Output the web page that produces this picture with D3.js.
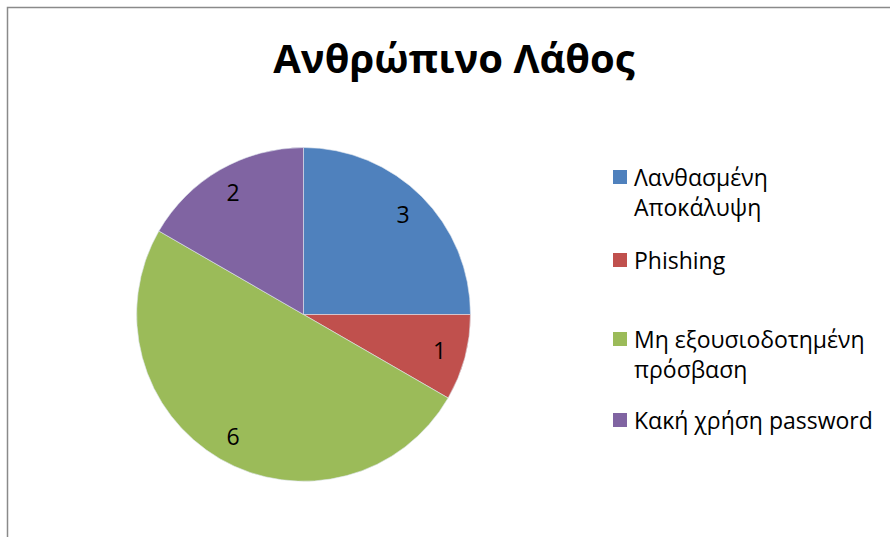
<!DOCTYPE html>
<html>
<head>
<meta charset="utf-8">
<script src="https://cdn.jsdelivr.net/npm/d3@7"></script>
<style>
  body { margin: 0; background: #fff; }
  text { font-family: "Open Sans", "Noto Sans", sans-serif; fill: #000; }
</style>
</head>
<body>
<div id="chart"></div>
<script>
var svgWidth = 890;
var svgHeight = 537;

// data
var categories = ["Λανθασμένη Αποκάλυψη", "Phishing", "Μη εξουσιοδοτημένη πρόσβαση", "Κακή χρήση password"];
var legendLines = [["Λανθασμένη", "Αποκάλυψη"], ["Phishing"], ["Μη εξουσιοδοτημένη", "πρόσβαση"], ["Κακή χρήση password"]];
var values = [3, 1, 6, 2];
var colors = ["#4F81BD", "#C0504D", "#9BBB59", "#8064A2"];
var title = "Ανθρώπινο Λάθος";

var svg = d3.select("#chart")
  .append("svg")
  .attr("width", svgWidth)
  .attr("height", svgHeight);

// chart frame (cut off at right and bottom)
svg.append("rect")
  .attr("x", 7.5)
  .attr("y", 7.5)
  .attr("width", 1000)
  .attr("height", 1000)
  .attr("fill", "none")
  .attr("stroke", "#8a8a8a")
  .attr("stroke-width", 1.5);

// title
svg.append("text")
  .attr("x", 454)
  .attr("y", 73)
  .attr("text-anchor", "middle")
  .attr("font-size", "40px")
  .attr("font-weight", "bold")
  .text(title);

// pie
var radius = 167;
var pieGroup = svg.append("g")
  .attr("transform", "translate(303.5, 314.5)");

var pie = d3.pie().sort(null).value(d => d);
var arc = d3.arc().innerRadius(0).outerRadius(radius);
var labelArc = d3.arc().innerRadius(141).outerRadius(141);

var arcs = pie(values);

pieGroup.selectAll("path")
  .data(arcs)
  .enter()
  .append("path")
  .attr("d", arc)
  .attr("fill", (d, i) => colors[i])
  .attr("stroke", "#dfe6ee")
  .attr("stroke-width", 0.6);

pieGroup.selectAll(".slice-label")
  .data(arcs)
  .enter()
  .append("text")
  .attr("class", "slice-label")
  .attr("transform", d => `translate(${labelArc.centroid(d)})`)
  .attr("text-anchor", "middle")
  .attr("dy", "0.36em")
  .attr("font-size", "23px")
  .text(d => d.data);

// legend
var legendY = [177, 260, 339, 420];
var legend = svg.append("g");

var items = legend.selectAll(".legend-item")
  .data(categories)
  .enter()
  .append("g")
  .attr("class", "legend-item")
  .attr("transform", (d, i) => `translate(613, ${legendY[i]})`);

items.append("rect")
  .attr("x", 0)
  .attr("y", -7)
  .attr("width", 14)
  .attr("height", 14)
  .attr("fill", (d, i) => colors[i]);

items.append("text")
  .attr("x", 21)
  .attr("y", 8.5)
  .attr("font-size", "23px")
  .selectAll("tspan")
  .data((d, i) => legendLines[i])
  .enter()
  .append("tspan")
  .attr("x", 21)
  .attr("dy", (d, j) => j === 0 ? 0 : 30)
  .text(d => d);
</script>
</body>
</html>
